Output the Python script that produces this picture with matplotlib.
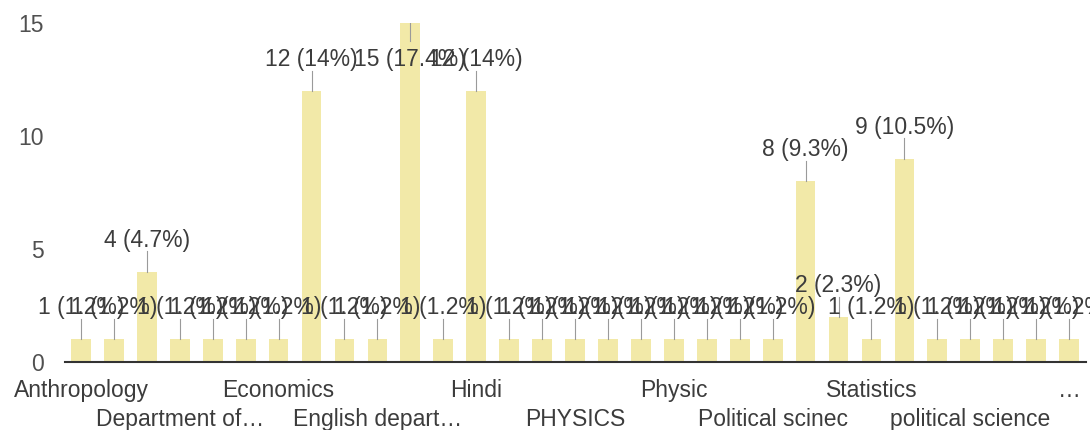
import matplotlib
matplotlib.use("Agg")
from matplotlib import pyplot as plt

# Responses per department (31 bars, only every 3rd name is shown on the axis)
values = [1, 1, 4, 1, 1, 1, 1, 12, 1, 1, 15, 1, 12,
          1, 1, 1, 1, 1, 1, 1, 1, 1,
          8, 2, 1, 9,
          1, 1, 1, 1, 1]

# Axis names, blank where the chart skips a label
tick_labels = ["Anthropology", "", "", "Department of\u2026", "", "",
               "Economics", "", "", "English depart\u2026", "", "",
               "Hindi", "", "", "PHYSICS", "", "",
               "Physic", "", "", "Political scinec", "", "",
               "Statistics", "", "", "political science", "", "",
               "\u2026"]

y_ticks = [0, 5, 10, 15]

BAR_COLOR = "#f2e9a8"
TEXT_COLOR = "#3c3c3c"
LINE_COLOR = "#9a9a9a"
FONT = 16.5

plt.rcParams['font.family'] = ['Liberation Sans', 'DejaVu Sans']

total = sum(values)
positions = list(range(len(values)))

fig = plt.figure(figsize=(10.9, 4.3), dpi=100)
ax = fig.add_axes([0.0592, 0.158, 0.9367, 0.788])

ax.bar(positions, values, width=0.6, color=BAR_COLOR, zorder=2)

# Data labels with a short leader line, clamped below the top of the plot
for x, v in zip(positions, values):
	pct = f"{100.0 * v / total:.1f}".rstrip('0').rstrip('.')
	label_y = min(v + 1.4, 13.4)
	if label_y > v:
		line_end = label_y - 0.5
	else:
		line_end = label_y + 0.8
	ax.plot([x, x], [v, line_end], color=LINE_COLOR, lw=0.8, zorder=3)
	ax.text(x, label_y, f"{v} ({pct}%)", ha="center", va="center",
			fontsize=FONT, color=TEXT_COLOR, zorder=4)

ax.set_xlim(-0.5, len(values) - 0.5)
ax.set_ylim(0, 15)

ax.set_xticks(positions, tick_labels, fontsize=FONT, color=TEXT_COLOR)
# alternate the shown names between two rows
shown = 0
for tick, name in zip(ax.xaxis.get_major_ticks(), tick_labels):
	if name:
		tick.set_pad(12 if shown % 2 == 0 else 33)
		shown += 1
ax.tick_params(axis="x", length=0)

ax.set_yticks(y_ticks)
ax.set_yticklabels([str(t) for t in y_ticks], fontsize=FONT, color="#505050")
ax.tick_params(axis="y", length=0, pad=15)

for side in ["top", "right", "left"]:
	ax.spines[side].set_visible(False)
ax.spines["bottom"].set_color("#333333")
ax.spines["bottom"].set_linewidth(1.5)
ax.spines["bottom"].set_zorder(5)

fig.savefig("out.png", dpi=100)
